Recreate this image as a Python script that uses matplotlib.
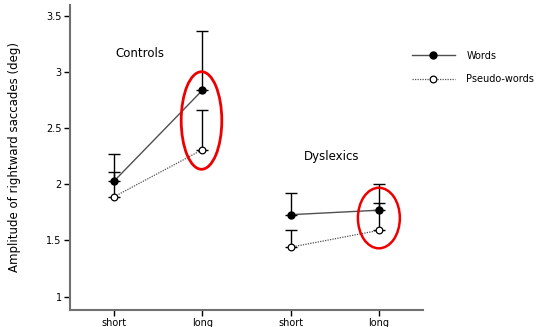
import matplotlib
matplotlib.use("Agg")
import matplotlib.pyplot as plt
from matplotlib.patches import Ellipse
import numpy as np

# Conditions (word length) for each group
tick_labels = ["short", "long", "short", "long"]
groups = ["Controls", "Dyslexics"]

# Mean amplitude (deg) and upper error (deg)
words_mean = [2.03, 2.84, 1.73, 1.77]
words_err = [0.24, 0.53, 0.19, 0.23]
pseudo_mean = [1.89, 2.31, 1.44, 1.59]
pseudo_err = [0.22, 0.35, 0.15, 0.24]

x = np.arange(1, len(tick_labels) + 1)

fig = plt.figure(figsize=(5.41, 3.27), dpi=100)
ax = fig.add_axes([0.1294, 0.052, 0.6525, 0.9327])

axis_color = "#707070"
fs = 7

# One-sided (upward) error bars
for mean, err in ((words_mean, words_err), (pseudo_mean, pseudo_err)):
    ax.errorbar(x, mean, yerr=[np.zeros(len(err)), err], fmt="none",
                ecolor="black", elinewidth=1.0, capsize=4, capthick=1.0, zorder=2)

# Lines within each group
for i, sl in enumerate((slice(0, 2), slice(2, 4))):
    ax.plot(x[sl], words_mean[sl], color="#505050", lw=1.0, ls="-",
            marker="o", ms=5, mfc="black", mec="black", zorder=3,
            label="Words" if i == 0 else None)
    ax.plot(x[sl], pseudo_mean[sl], color="#505050", lw=0.9, ls=(0, (1, 1)),
            marker="o", ms=4.8, mfc="white", mec="black", mew=0.9, zorder=3,
            label="Pseudo-words" if i == 0 else None)

# Highlight ellipses on the long-word conditions
ax.add_patch(Ellipse((1.99, 2.57), 0.46, 0.87, fill=False, ec="#ee0000", lw=2.0, zorder=4))
ax.add_patch(Ellipse((4.0, 1.70), 0.475, 0.54, fill=False, ec="#ee0000", lw=1.8, zorder=4))

# Group labels
ax.text(1.29, 3.17, groups[0], fontsize=8.5, ha="center", va="center")
ax.text(3.47, 2.25, groups[1], fontsize=8.5, ha="center", va="center")

ax.set_xlim(0.5, 4.5)
ax.set_ylim(0.88, 3.6)
ax.set_xticks(x)
ax.set_xticklabels(tick_labels, fontsize=fs)
ax.set_yticks([1, 1.5, 2, 2.5, 3, 3.5])
ax.set_yticklabels(["1", "1.5", "2", "2.5", "3", "3.5"], fontsize=fs)
ax.set_ylabel("Amplitude of rightward saccades (deg)", fontsize=8.5, labelpad=18)

for side in ("top", "right"):
    ax.spines[side].set_visible(False)
for side in ("left", "bottom"):
    ax.spines[side].set_color(axis_color)
    ax.spines[side].set_linewidth(1.5)
ax.tick_params(axis="both", direction="out", length=4, width=1.0,
               color="black", pad=2)

ax.legend(loc="upper left", bbox_to_anchor=(0.7616, 0.845), bbox_transform=fig.transFigure,
          frameon=False, fontsize=7, handlelength=4.4, handletextpad=1.2,
          labelspacing=1.4, borderpad=0, borderaxespad=0)

fig.savefig("out.png", dpi=100)
